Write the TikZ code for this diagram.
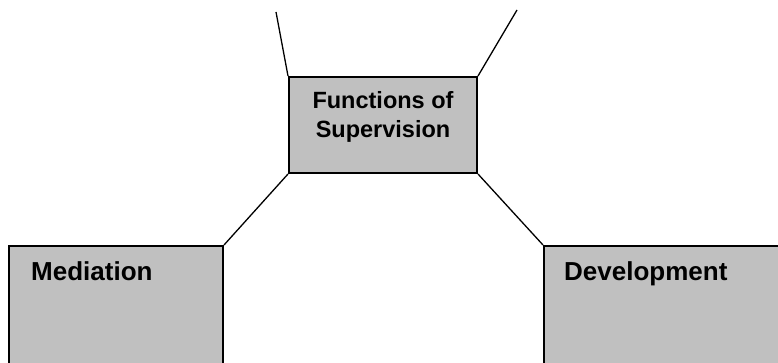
\documentclass[tikz,border=0pt]{standalone}
\usepackage{fontspec}
\setmainfont{Liberation Sans}
\definecolor{boxgray}{RGB}{192,192,192}
\begin{document}
\begin{tikzpicture}[x=1pt, y=-1pt,
    box/.style={draw, line width=2pt, fill=boxgray, rectangle, inner sep=0pt},
    link/.style={line width=1.3pt},
    heading/.style={font=\bfseries\fontsize{26}{31}\selectfont, inner sep=0pt}]
    \useasboundingbox (0, 0) rectangle (778, 363);
    \clip (0, 0) rectangle (778, 363);

    \node[box, minimum width=188pt, minimum height=96pt] (functions) at (383, 125) {};
    \node[align=center, inner sep=0pt, font=\bfseries\fontsize{23.5}{29}\selectfont] (functitle) at (383, 116.5) {Functions of\\Supervision};

    \node[box, anchor=north west, minimum width=214pt, minimum height=150pt] (mediation) at (8, 245) {};
    \node[heading, anchor=base west] (medtext) at (31, 280) {Mediation};

    \node[box, anchor=north west, minimum width=260pt, minimum height=150pt] (development) at (543, 245) {};
    \node[heading, anchor=base west] (devtext) at (564, 280) {Development};

    \coordinate (topleft) at (276, 12);
    \coordinate (topright) at (517, 10);

    \draw[link] (topleft) -- (functions.north west);
    \draw[link] (topright) -- (functions.north east);
    \draw[link] (functions.south west) -- (mediation.north east);
    \draw[link] (functions.south east) -- (development.north west);
\end{tikzpicture}
\end{document}
